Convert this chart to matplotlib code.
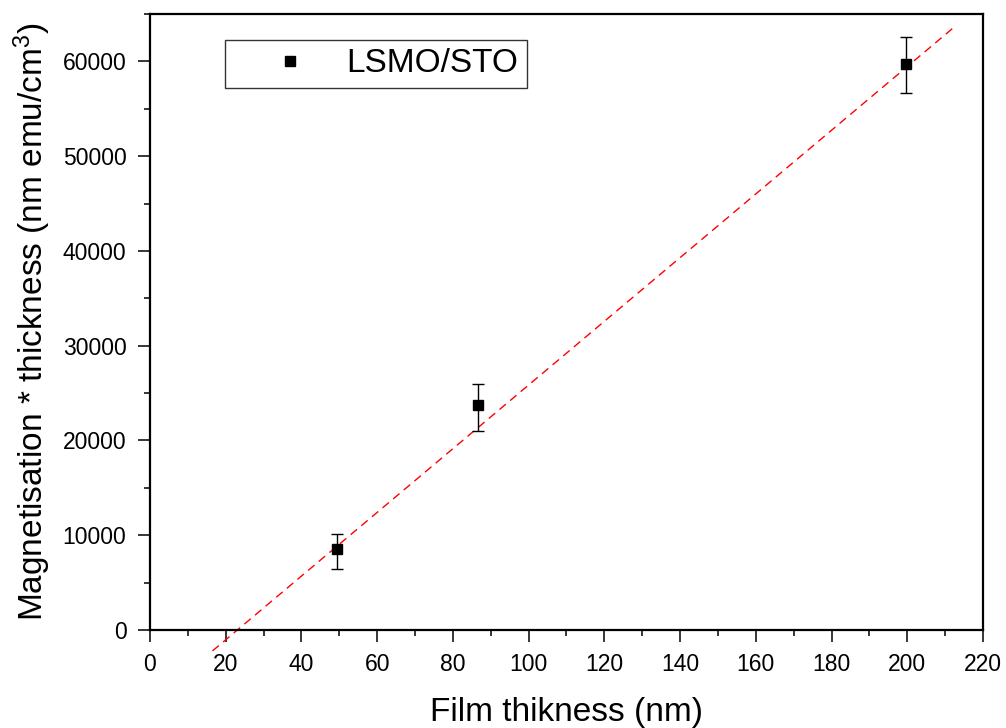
import numpy as np
import matplotlib
matplotlib.use("Agg")
import matplotlib.pyplot as plt
from matplotlib.ticker import MultipleLocator

plt.rcParams['font.family'] = ['Liberation Sans', 'DejaVu Sans']
plt.rcParams['mathtext.default'] = 'regular'

# film thickness (nm) and magnetisation*thickness (nm emu/cm^3)
thickness = [49.5, 86.7, 199.7]
mt = [8510, 23690, 59760]
mt_low = [6470, 20980, 56630]
mt_high = [10090, 25940, 62570]

# linear fit
fit_slope = 336.0
fit_intercept = -7750.0
fit_xmin, fit_xmax = 16.5, 212.3

fig = plt.figure(figsize=(10.06, 7.28), dpi=100)
ax = fig.add_axes([0.1491, 0.1346, 0.8280, 0.8462])

xfit = np.linspace(fit_xmin, fit_xmax, 50)
ax.plot(xfit, fit_slope * xfit + fit_intercept, color='red', lw=1.0,
        linestyle=(0, (6, 4)), clip_on=False, zorder=2)

x = np.array(thickness)
y = np.array(mt)
yerr = [y - np.array(mt_low), np.array(mt_high) - y]
ax.errorbar(x, y, yerr=yerr, fmt='none', ecolor='black', elinewidth=1.0,
            capsize=4.5, capthick=1.0, zorder=3)
ax.plot(x, y, 's', color='black', ms=6.5, label='LSMO/STO', zorder=4)

ax.set_xlim(0, 220)
ax.set_ylim(0, 65000)
ax.xaxis.set_major_locator(MultipleLocator(20))
ax.xaxis.set_minor_locator(MultipleLocator(10))
ax.yaxis.set_major_locator(MultipleLocator(10000))
ax.yaxis.set_minor_locator(MultipleLocator(5000))
ax.tick_params(which='both', direction='out', top=False, right=False,
               width=1.1, labelsize=16.5)
ax.tick_params(which='major', length=8.5)
ax.tick_params(axis='x', which='major', pad=8)
ax.tick_params(axis='y', which='major', pad=8.5)
ax.tick_params(which='minor', length=4.5)
for s in ax.spines.values():
    s.set_linewidth(1.6)

ax.set_xlabel('Film thikness (nm)', fontsize=24, labelpad=15)
ax.set_ylabel(r'Magnetisation * thickness (nm emu/cm$^3$)', fontsize=24,
              labelpad=7)

leg = ax.legend(loc='upper left', bbox_to_anchor=(0.09, 0.958), fontsize=24,
                frameon=True, fancybox=False, edgecolor='black',
                handlelength=3.4, handletextpad=0.0, borderpad=0.25,
                borderaxespad=0, markerscale=1.0)
leg.get_frame().set_linewidth(1.0)

fig.savefig('out.png', dpi=100)
